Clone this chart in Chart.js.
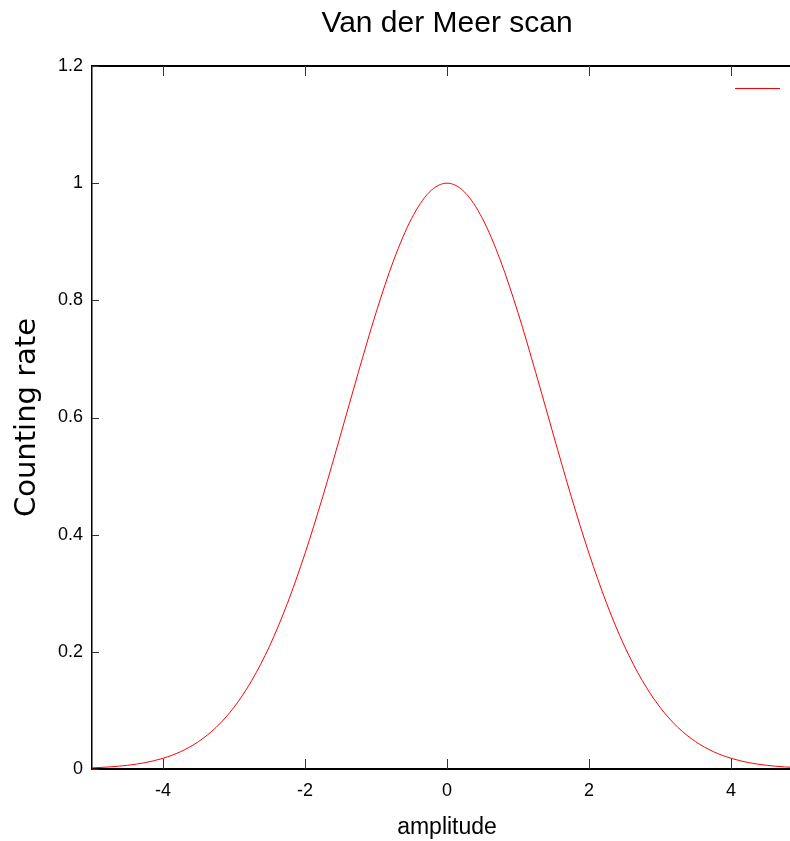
<!DOCTYPE html>
<html><head><meta charset="utf-8">
<script src="https://cdn.jsdelivr.net/npm/chart.js@4.4.1/dist/chart.umd.min.js"></script>
<style>html,body{margin:0;padding:0;background:#fff;overflow:hidden}#wrap{width:790px;height:841px;overflow:hidden;background:#fff}</style>
</head><body><div id="wrap"><canvas id="c" width="812" height="841"></canvas></div>
<script>
const amplitude = [-5,-4.75,-4.5,-4.25,-4,-3.75,-3.5,-3.25,-3,-2.75,-2.5,-2.25,-2,-1.75,-1.5,-1.25,-1,-0.75,-0.5,-0.25,0,
  0.25,0.5,0.75,1,1.25,1.5,1.75,2,2.25,2.5,2.75,3,3.25,3.5,3.75,4,4.25,4.5,4.75,5];
const countingRate = [0.0019,0.0036,0.0063,0.0109,0.0183,0.0297,0.0468,0.0713,0.1054,0.1510,0.2096,0.2821,0.3679,0.4650,0.5698,0.6766,0.7788,0.8688,0.9394,0.9845,1.0000,
  0.9845,0.9394,0.8688,0.7788,0.6766,0.5698,0.4650,0.3679,0.2821,0.2096,0.1510,0.1054,0.0713,0.0468,0.0297,0.0183,0.0109,0.0063,0.0036,0.0019];
const xTickValues = [-4,-2,0,2,4];
const yTickValues = [0,0.2,0.4,0.6,0.8,1,1.2];

const NARROW = "'Liberation Sans Narrow','Arial Narrow','Liberation Sans',Arial,sans-serif";
const WIDE = "'DejaVu Sans','Liberation Sans',sans-serif";

function seg(ctx,x1,y1,x2,y2){ctx.beginPath();ctx.moveTo(x1,y1);ctx.lineTo(x2,y2);ctx.stroke();}

const innerTicks = {
  id:'innerTicks',
  afterDatasetsDraw(chart){
    const {ctx, chartArea:a, scales} = chart;
    const x = scales.x, y = scales.y;
    ctx.save();
    ctx.strokeStyle = '#333'; ctx.lineWidth = 1;
    x.ticks.forEach(t=>{const px=Math.round(x.getPixelForValue(t.value))+0.5;
      seg(ctx,px,a.bottom,px,a.bottom-10); seg(ctx,px,a.top,px,a.top+10);});
    y.ticks.forEach(t=>{const py=Math.round(y.getPixelForValue(t.value))+0.5;
      seg(ctx,a.left,py,a.left+7,py); seg(ctx,a.right,py,a.right-7,py);});
    const ds = chart.data.datasets[0];
    ctx.strokeStyle = ds.borderColor; ctx.lineWidth = ds.borderWidth;
    seg(ctx,a.right-67,a.top+22.5,a.right-22,a.top+22.5);
    ctx.restore();
  }
};

new Chart(document.getElementById('c'), {
  type:'line',
  data:{datasets:[{
    label:'',
    data: amplitude.map((v,i)=>({x:v,y:countingRate[i]})),
    borderColor:'#ff0000', borderWidth:1, pointRadius:0, fill:false,
    cubicInterpolationMode:'monotone', xAxisID:'x', yAxisID:'y'
  }]},
  options:{
    responsive:false, animation:false, devicePixelRatio:1,
    layout:{padding:{left:0,right:10,top:0,bottom:0}},
    plugins:{
      legend:{display:false}, tooltip:{enabled:false},
      title:{display:true, text:'Van der Meer scan', color:'#000', fullSize:false,
        font:{family:NARROW,size:30,weight:'normal'}, padding:{top:6,bottom:24}}
    },
    scales:{
      x:{type:'linear', position:'bottom', min:-5, max:5,
        afterBuildTicks:s=>{s.ticks = xTickValues.map(v=>({value:v}));},
        afterFit:s=>{s.height=72;},
        grid:{display:false, drawTicks:false}, border:{display:true,color:'#000',width:2},
        ticks:{color:'#000', font:{family:NARROW,size:18}, padding:11, maxRotation:0, autoSkip:false},
        title:{display:true, text:'amplitude', color:'#000', font:{family:NARROW,size:23}, padding:{top:3,bottom:0}}
      },
      x2:{type:'linear', position:'top', min:-5, max:5,
        afterFit:s=>{s.height=0;},
        grid:{display:false, drawTicks:false}, border:{display:true,color:'#000',width:2},
        ticks:{display:false}
      },
      y:{type:'linear', position:'left', min:0, max:1.2,
        afterBuildTicks:s=>{s.ticks = yTickValues.map(v=>({value:v}));},
        afterFit:s=>{s.width=92;},
        grid:{display:false, drawTicks:false}, border:{display:true,color:'#000',width:1.5},
        ticks:{color:'#000', font:{family:NARROW,size:18}, padding:9, callback:v=>String(v)},
        title:{display:true, text:'Counting rate', color:'#000', font:{family:WIDE,size:29}, padding:{top:10,bottom:0}}
      }
    }
  },
  plugins:[innerTicks]
});
</script></body></html>
